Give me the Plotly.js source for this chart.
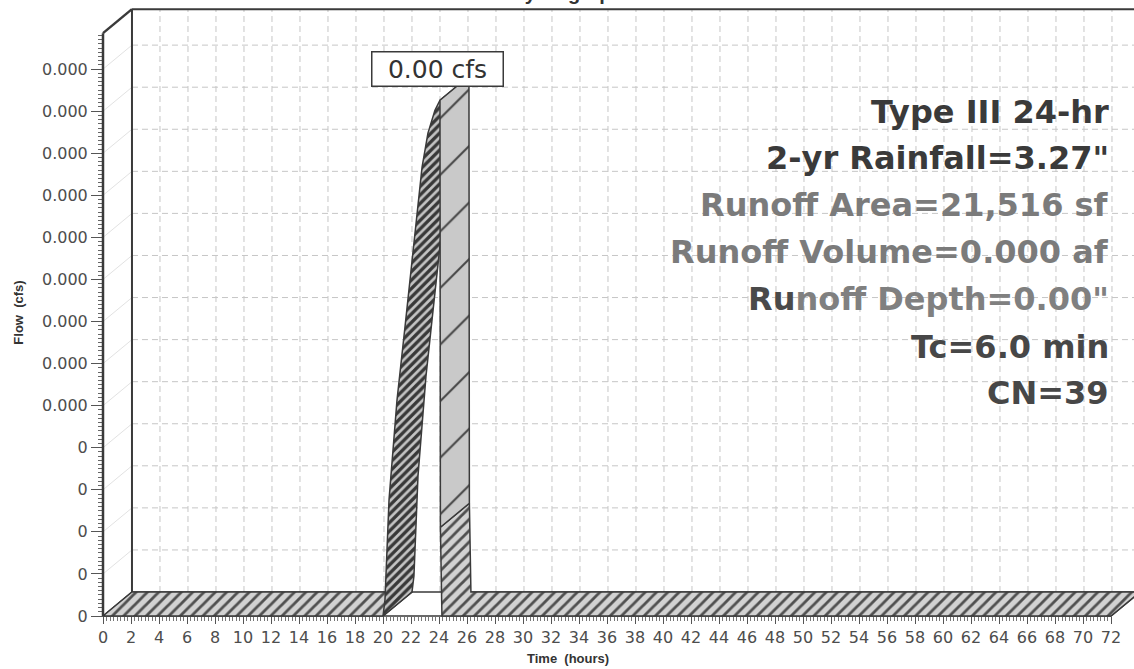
<!DOCTYPE html>
<html><head><meta charset="utf-8">
<script src="https://cdn.plot.ly/plotly-3.0.1.min.js"></script>
<style>html,body{margin:0;padding:0;background:#fff}#chart{width:1134px;height:669px}</style>
</head><body><div id="chart"></div>
<script>
// ---------------- data ----------------
const timeHours = [0, 20.0, 20.14, 20.43, 21.0, 21.57, 22.29, 22.79, 23.21, 23.71, 24.07, 24.1, 24.21, 72];
const flowCfs   = [0, 0, 0.000038, 0.000276, 0.000513, 0.000687, 0.00091, 0.001067, 0.001148, 0.001202, 0.001226, 0.000211, 0, 0];
const yTickVals = [0, 0.0001, 0.0002, 0.0003, 0.0004, 0.0005, 0.0006, 0.0007, 0.0008, 0.0009, 0.0010, 0.0011, 0.0012, 0.0013];
const yTickText = ["0", "0", "0", "0", "0", "0.000", "0.000", "0.000", "0.000", "0.000", "0.000", "0.000", "0.000", "0.000"];
const statLines = ["Type III 24-hr", "2-yr Rainfall=3.27\"", "Runoff Area=21,516 sf", "Runoff Volume=0.000 af",
                   "<span style='fill:#4a4a4a'>Ru</span>noff Depth=0.00\"", "Tc=6.0 min", "CN=39"];
const chartTitle = "Hydrograph";
const xTitle = "Time&nbsp; (hours)";
const yTitle = "Flow&nbsp; (cfs)";

// ---------------- layout constants ----------------
const W = 1134, H = 669;
const PLOT_L = 100, PLOT_T = 6, PLOT_B = 619;      // px
const X_MIN = -0.2143, X_MAX = 73.643;
const Y_MIN = -0.00000713, Y_MAX = 0.00145;
const DEPTH_X = 2.07, DEPTH_Y = 0.000057;          // pseudo-3D depth offset
const FRONT_TOP = 0.0013855;
const WALL_TOP = FRONT_TOP + DEPTH_Y;
const X_END = 72;
const plotW = W - PLOT_L, plotH = PLOT_B - PLOT_T;
const px2paperX = px => (px - PLOT_L) / plotW;
const px2paperY = py => (PLOT_B - py) / plotH;

const statColors = ["#3a3a3a", "#3a3a3a", "#7b7b7b", "#7b7b7b", "#808080", "#474747", "#474747"];
const statYpx = [112, 158, 205, 252, 299, 347, 393];

// ---------------- ribbon surfaces ----------------
const peak = Math.max(...flowCfs);
const peakIdx = flowCfs.indexOf(peak);
const segClass = [];
for (let i = 0; i < timeHours.length - 1; i++) {
  const dq = flowCfs[i + 1] - flowCfs[i];
  if (dq > 0) segClass.push('rise');
  else if (-dq > 0.25 * peak) segClass.push('face');
  else segClass.push('flat');
}
const groups = {flat: {x: [], y: []}, rise: {x: [], y: []}, face: {x: [], y: []}};
let s = 0;
while (s < segClass.length) {
  let e = s;
  while (e + 1 < segClass.length && segClass[e + 1] === segClass[s]) e++;
  const ts = timeHours.slice(s, e + 2), qs = flowCfs.slice(s, e + 2);
  const g = groups[segClass[s]];
  const px = [...ts, ...ts.slice().reverse().map(t => t + DEPTH_X), ts[0]];
  const py = [...qs, ...qs.slice().reverse().map(q => q + DEPTH_Y), qs[0]];
  if (g.x.length) { g.x.push(null); g.y.push(null); }
  g.x.push(...px); g.y.push(...py);
  s = e + 1;
}
const t0 = timeHours[0], tN = timeHours[timeHours.length - 1];
const outline = {color: '#3a3a3a', width: 1.5};
const traces = [
  {type: 'scatter', mode: 'lines', x: [t0, tN, tN + DEPTH_X, t0 + DEPTH_X, t0], y: [0, 0, DEPTH_Y, DEPTH_Y, 0],
   fill: 'toself', fillcolor: '#ffffff', line: outline, hoverinfo: 'skip', showlegend: false},
  {type: 'scatter', mode: 'lines', x: groups.flat.x, y: groups.flat.y, fill: 'toself',
   fillcolor: '#cfcfcf', fillpattern: {shape: '/', bgcolor: '#d2d2d2', fgcolor: '#505050', size: 8, solidity: 0.35},
   line: outline, hoverinfo: 'skip', showlegend: false},
  {type: 'scatter', mode: 'lines', x: groups.rise.x, y: groups.rise.y, fill: 'toself',
   fillcolor: '#999', fillpattern: {shape: '/', bgcolor: '#c4c4c4', fgcolor: '#383838', size: 6, solidity: 0.55},
   line: outline, hoverinfo: 'skip', showlegend: false},
  {type: 'scatter', mode: 'lines', x: groups.face.x, y: groups.face.y, fill: 'toself',
   fillcolor: '#c8c8c8', fillpattern: {shape: '/', bgcolor: '#c9c9c9', fgcolor: '#454545', size: 40, solidity: 0.05},
   line: outline, hoverinfo: 'skip', showlegend: false}
];

// ---------------- shapes (back wall grid + frame) ----------------
const shapes = [];
const gridLine = {color: '#c6c6c6', width: 1, dash: '6px,4px'};
yTickVals.forEach(v => {
  if (v > 0 && v + DEPTH_Y < WALL_TOP) {
    shapes.push({type: 'line', xref: 'x', yref: 'y', layer: 'below', x0: DEPTH_X, x1: X_MAX, y0: v + DEPTH_Y, y1: v + DEPTH_Y, line: gridLine});
  }
  shapes.push({type: 'line', xref: 'x', yref: 'y', layer: 'below', x0: 0, x1: DEPTH_X, y0: v, y1: v + DEPTH_Y, line: {color: '#e2e2e2', width: 1}});
});
for (let t = 2; t <= X_END; t += 2) {
  if (t + DEPTH_X < X_MAX) {
    shapes.push({type: 'line', xref: 'x', yref: 'y', layer: 'below', x0: t + DEPTH_X, x1: t + DEPTH_X, y0: DEPTH_Y, y1: WALL_TOP, line: gridLine});
  }
}
const frame = {color: '#3a3a3a', width: 2.5};
shapes.push({type: 'line', xref: 'x', yref: 'y', layer: 'above', x0: 0, x1: 0, y0: 0, y1: FRONT_TOP, line: frame});
shapes.push({type: 'line', xref: 'x', yref: 'y', layer: 'above', x0: 0, x1: DEPTH_X, y0: FRONT_TOP, y1: WALL_TOP, line: frame});
shapes.push({type: 'line', xref: 'x', yref: 'y', layer: 'below', x0: DEPTH_X, x1: DEPTH_X, y0: DEPTH_Y, y1: WALL_TOP, line: {color: '#3a3a3a', width: 2}});
shapes.push({type: 'line', xref: 'x', yref: 'y', layer: 'above', x0: DEPTH_X, x1: X_MAX, y0: WALL_TOP, y1: WALL_TOP, line: {color: '#3a3a3a', width: 2}});

// ---------------- annotations ----------------
const annotations = [];
statLines.forEach((txt, i) => {
  annotations.push({text: txt, xref: 'paper', yref: 'paper', x: px2paperX(1111), y: px2paperY(statYpx[i]),
    xanchor: 'right', yanchor: 'middle', showarrow: false,
    font: {family: 'DejaVu Sans', size: 32, color: statColors[i], weight: 'bold'}});
});
annotations.push({text: peak.toFixed(2) + ' cfs', xref: 'x', yref: 'y', x: timeHours[peakIdx], y: peak,
  xanchor: 'center', yanchor: 'bottom', yshift: 13, xshift: -2, showarrow: false, width: 126,
  bgcolor: '#ffffff', bordercolor: '#3a3a3a', borderwidth: 1.5, borderpad: 2,
  font: {family: 'DejaVu Sans', size: 25, color: '#333333'}});
annotations.push({text: xTitle, xref: 'paper', yref: 'paper', x: px2paperX(568), y: px2paperY(658),
  xanchor: 'center', yanchor: 'middle', showarrow: false,
  font: {family: 'Liberation Sans', size: 13, color: '#333333', weight: 'bold'}});

const minorY = []; for (let i = 0; i * 0.00001 <= FRONT_TOP + 1e-12; i++) minorY.push(+(i * 0.00001).toFixed(6));
const minorX = []; for (let i = 0; i * 0.25 <= X_END; i++) minorX.push(i * 0.25);

const layout = {
  width: W, height: H,
  margin: {l: PLOT_L, r: 0, t: PLOT_T, b: H - PLOT_B, pad: 0},
  paper_bgcolor: '#ffffff', plot_bgcolor: 'rgba(0,0,0,0)',
  showlegend: false,
  title: {text: chartTitle, xref: 'container', yref: 'container', x: 0.5, y: 1, xanchor: 'center', yanchor: 'bottom',
          font: {family: 'Liberation Sans', size: 20, color: '#333333', weight: 'bold'}},
  xaxis: {range: [X_MIN, X_MAX], anchor: 'free', position: 3 / plotH,
          tickmode: 'linear', tick0: 0, dtick: 2, ticks: 'outside', ticklen: 7, tickcolor: '#555', tickwidth: 1,
          minor: {tickmode: 'array', tickvals: minorX, ticks: 'outside', ticklen: 4, tickcolor: '#777', tickwidth: 1, showgrid: false},
          showgrid: false, zeroline: false, showline: false,
          tickfont: {family: 'DejaVu Sans', size: 16, color: '#4d4d4d'}},
  yaxis: {range: [Y_MIN, Y_MAX], anchor: 'free', position: 3 / plotW,
          tickmode: 'array', tickvals: yTickVals, ticktext: yTickText,
          ticks: 'outside', ticklen: 12, tickcolor: '#555', tickwidth: 1,
          minor: {tickmode: 'array', tickvals: minorY, ticks: 'outside', ticklen: 5, tickcolor: '#666', tickwidth: 1, showgrid: false},
          showgrid: false, zeroline: false, showline: false,
          tickfont: {family: 'DejaVu Sans', size: 16, color: '#4d4d4d'},
          title: {text: yTitle, standoff: 14, font: {family: 'Liberation Sans', size: 13, color: '#333333', weight: 'bold'}}},
  shapes: shapes,
  annotations: annotations
};

Plotly.newPlot('chart', traces, layout, {staticPlot: true, displayModeBar: false});
</script>
</body></html>
